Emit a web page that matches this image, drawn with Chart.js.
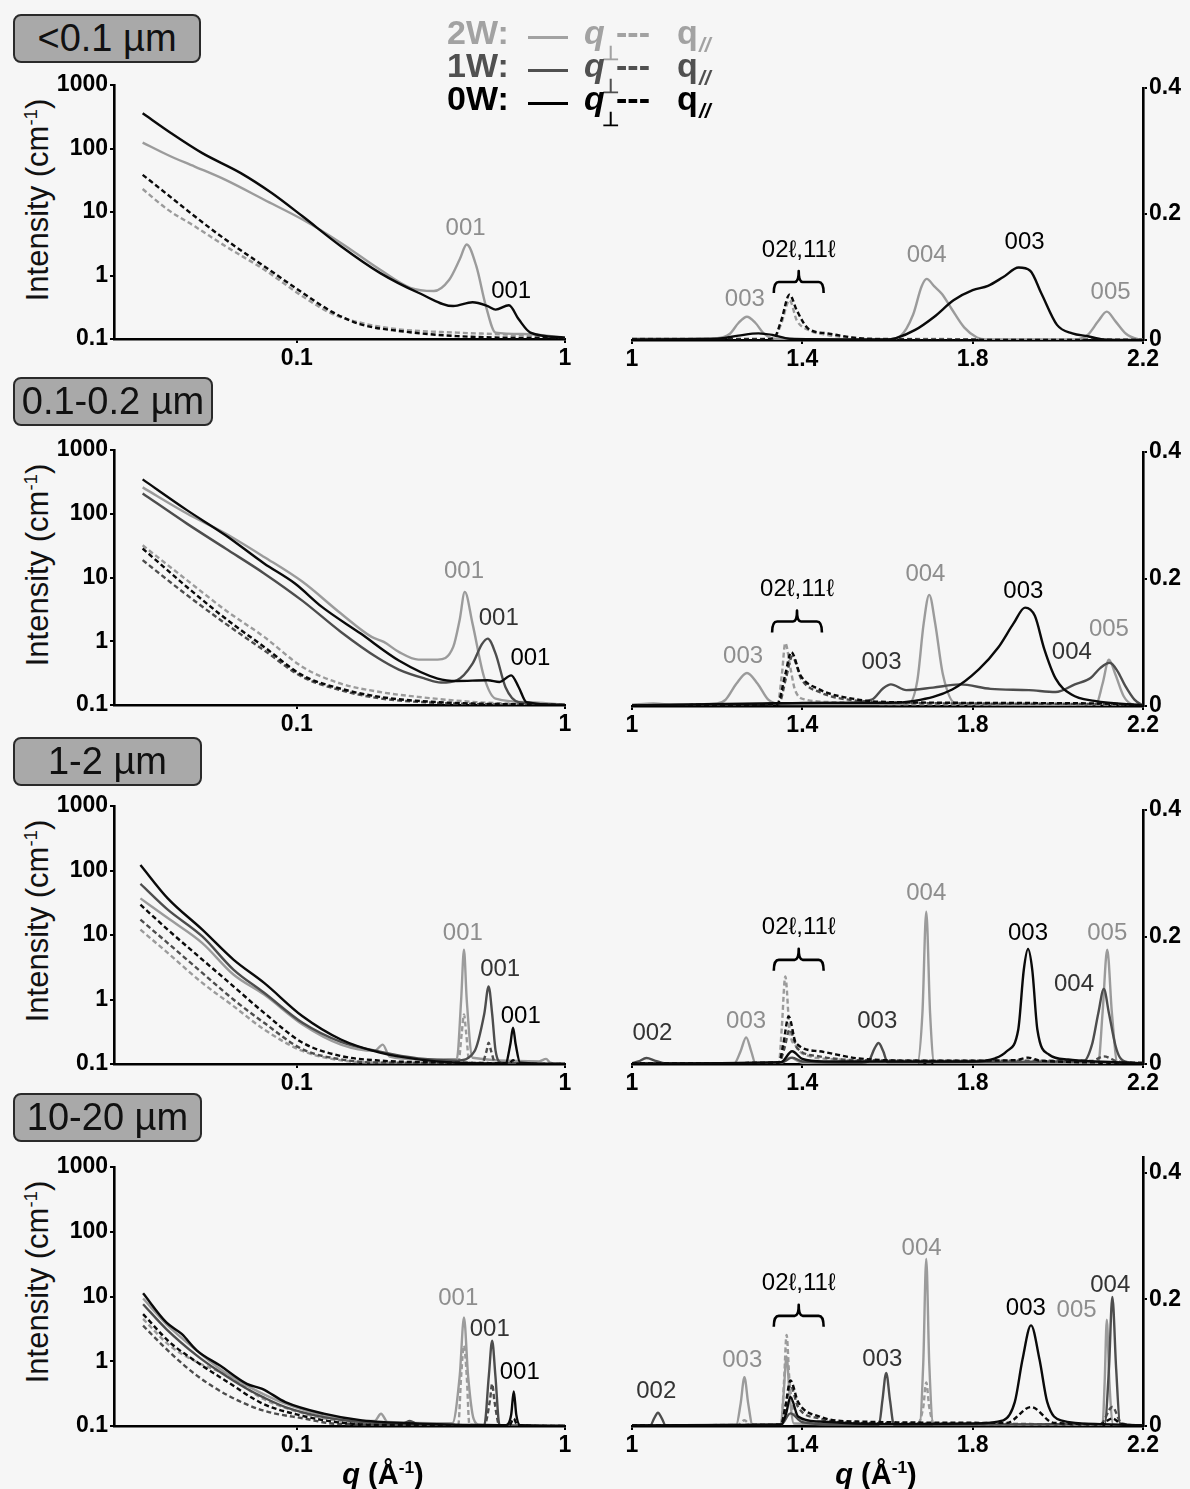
<!DOCTYPE html>
<html>
<head>
<meta charset="utf-8">
<script src="https://cdn.jsdelivr.net/npm/chart.js@4.4.1/dist/chart.umd.min.js"></script>
<style>
  html,body{margin:0;padding:0;background:#f6f6f6;}
  #wrap{position:relative;width:1190px;height:1489px;overflow:hidden;background:#f6f6f6;font-family:"Liberation Sans",Arial,sans-serif;}
  .box{position:absolute;background:#a9a9a9;border:2px solid #2a2a2a;border-radius:8px;box-sizing:border-box;
       font-size:38px;color:#111;text-align:center;line-height:45px;}
  .ytitle{position:absolute;font-size:31px;color:#111;white-space:nowrap;transform:translate(-50%,-50%) rotate(-90deg);}
  .ytitle sup,.xtitle sup{font-size:60%;vertical-align:super;line-height:0;}
  .xtitle{position:absolute;font-size:29px;font-weight:bold;color:#000;white-space:nowrap;transform:translate(-50%,-50%);}
  .lgp{position:absolute;font-weight:bold;white-space:nowrap;line-height:1;}
  canvas{position:absolute;}
</style>
</head>
<body>
<div id="wrap"></div>
<script>
// ---------------- DATA ([q (Å-1), Intensity] pairs) ----------------
// Row 1: <0.1 µm, left (log-log)
const r1L_2W_perp = [[0.0266,124],[0.033,79],[0.0416,52],[0.0542,32],[0.0755,15.6],[0.105,7.6],[0.146,3.26],[0.204,1.24],[0.265,0.64],[0.324,0.57],[0.37,0.86],[0.405,1.8],[0.43,3.07],[0.467,1.4],[0.507,0.33],[0.551,0.126],[0.7,0.12],[1.0,0.105]];
const r1L_2W_par  = [[0.0266,23],[0.033,10.9],[0.0416,5.95],[0.0542,2.89],[0.0755,1.24],[0.105,0.47],[0.137,0.244],[0.173,0.18],[0.24,0.142],[0.395,0.126],[0.6,0.118],[1.0,0.105]];
const r1L_0W_perp = [[0.0266,359],[0.034,174],[0.0444,84.5],[0.0618,41],[0.0806,19.9],[0.105,8.55],[0.146,2.89],[0.204,1.1],[0.284,0.535],[0.383,0.33],[0.452,0.38],[0.515,0.33],[0.551,0.29],[0.618,0.34],[0.672,0.204],[0.743,0.126],[1.0,0.105]];
const r1L_0W_par  = [[0.0266,38.5],[0.033,18.7],[0.0416,8.55],[0.0542,3.68],[0.0755,1.4],[0.105,0.535],[0.137,0.26],[0.173,0.17],[0.24,0.134],[0.395,0.111],[1.0,0.102]];
// Row 1, right (linear)
const r1R_2W_perp = [[1.0,0.002],[1.2,0.003],[1.23,0.01],[1.25,0.027],[1.27,0.037],[1.29,0.027],[1.31,0.01],[1.335,0.002],[1.5,0.001],[1.6,0.001],[1.63,0.006],[1.66,0.04],[1.68,0.085],[1.692,0.097],[1.71,0.085],[1.728,0.073],[1.75,0.05],[1.78,0.02],[1.81,0.004],[1.83,0.001],[2.04,0.001],[2.07,0.008],[2.095,0.03],[2.115,0.045],[2.135,0.03],[2.16,0.01],[2.19,0.001],[2.2,0]];
const r1R_2W_par  = [[1.0,0.002],[1.3,0.002],[1.333,0.003],[1.35,0.025],[1.37,0.063],[1.387,0.031],[1.414,0.016],[1.459,0.008],[1.53,0.003],[1.6,0.002],[2.2,0.001]];
const r1R_0W_perp = [[1.0,0.001],[1.2,0.002],[1.25,0.007],[1.297,0.0105],[1.33,0.008],[1.37,0.002],[1.5,0.001],[1.6,0.001],[1.62,0.003],[1.665,0.016],[1.71,0.037],[1.755,0.063],[1.8,0.079],[1.836,0.086],[1.872,0.1],[1.908,0.115],[1.935,0.11],[1.962,0.073],[1.998,0.024],[2.034,0.0105],[2.07,0.006],[2.106,0.001],[2.2,0]];
const r1R_0W_par  = [[1.0,0.001],[1.3,0.001],[1.333,0.003],[1.35,0.03],[1.37,0.072],[1.387,0.047],[1.414,0.018],[1.459,0.0105],[1.53,0.003],[1.6,0.001],[2.2,0]];

// Row 2: 0.1-0.2 µm, left
const r2L_2W_perp = [[0.0266,259],[0.0389,101],[0.0542,49],[0.0755,21],[0.105,8.55],[0.146,2.72],[0.19,1.17],[0.211,0.977],[0.24,0.68],[0.284,0.515],[0.335,0.515],[0.383,0.815],[0.405,2.2],[0.423,5.96],[0.452,1.89],[0.499,0.275],[0.551,0.126],[0.77,0.11],[1.0,0.1]];
const r2L_2W_par  = [[0.0266,32],[0.0389,9.1],[0.0542,3.07],[0.0755,1.17],[0.105,0.395],[0.146,0.216],[0.204,0.16],[0.284,0.134],[0.467,0.111],[1.0,0.1]];
const r2L_1W_perp = [[0.0266,208],[0.0389,70],[0.0542,28.5],[0.0755,11.6],[0.105,4.3],[0.146,1.4],[0.2,0.55],[0.24,0.36],[0.3,0.26],[0.345,0.225],[0.395,0.244],[0.452,0.445],[0.49,0.9],[0.515,1.1],[0.551,0.64],[0.6,0.19],[0.672,0.111],[1.0,0.1]];
const r2L_1W_par  = [[0.0266,18.7],[0.0389,5.3],[0.0542,1.89],[0.0755,0.72],[0.105,0.275],[0.146,0.17],[0.204,0.127],[0.335,0.108],[1.0,0.1]];
const r2L_0W_perp = [[0.0266,346],[0.0389,114],[0.0542,46],[0.0755,16.6],[0.0984,8.05],[0.124,3.46],[0.173,1.32],[0.24,0.5],[0.335,0.26],[0.395,0.238],[0.515,0.244],[0.57,0.23],[0.63,0.292],[0.672,0.19],[0.718,0.111],[1.0,0.1]];
const r2L_0W_par  = [[0.0266,28.5],[0.0389,7.1],[0.0542,2.27],[0.0755,0.815],[0.105,0.292],[0.146,0.18],[0.204,0.134],[0.335,0.111],[1.0,0.1]];
// Row 2, right
const r2R_2W_perp = [[1.0,0.002],[1.05,0.004],[1.1,0.002],[1.2,0.004],[1.22,0.01],[1.245,0.035],[1.27,0.052],[1.295,0.035],[1.32,0.01],[1.35,0.003],[1.6,0.003],[1.65,0.004],[1.67,0.04],[1.685,0.13],[1.698,0.175],[1.712,0.13],[1.73,0.05],[1.76,0.004],[2.0,0.002],[2.09,0.003],[2.105,0.035],[2.12,0.073],[2.135,0.05],[2.155,0.015],[2.176,0.002],[2.2,0]];
const r2R_2W_par  = [[1.0,0.001],[1.3,0.002],[1.342,0.004],[1.352,0.05],[1.36,0.099],[1.372,0.06],[1.382,0.027],[1.405,0.0105],[1.48,0.006],[1.6,0.003],[2.2,0.002]];
const r2R_1W_perp = [[1.0,0.001],[1.3,0.003],[1.4,0.005],[1.5,0.005],[1.563,0.01],[1.59,0.028],[1.608,0.034],[1.644,0.025],[1.707,0.029],[1.77,0.034],[1.842,0.027],[1.932,0.025],[1.995,0.022],[2.04,0.034],[2.077,0.044],[2.1,0.06],[2.122,0.068],[2.14,0.055],[2.158,0.032],[2.18,0.01],[2.2,0.001]];
const r2R_1W_par  = [[1.0,0.001],[1.3,0.002],[1.345,0.004],[1.362,0.045],[1.376,0.078],[1.398,0.042],[1.44,0.022],[1.53,0.008],[1.62,0.005],[2.1,0.003],[2.2,0.001]];
const r2R_0W_perp = [[1.0,0.001],[1.3,0.004],[1.45,0.005],[1.6,0.005],[1.662,0.008],[1.752,0.026],[1.815,0.058],[1.86,0.092],[1.896,0.13],[1.923,0.155],[1.946,0.142],[1.968,0.09],[1.995,0.043],[2.032,0.018],[2.086,0.008],[2.2,0.001]];
const r2R_0W_par  = [[1.0,0.001],[1.3,0.002],[1.342,0.004],[1.36,0.05],[1.374,0.085],[1.396,0.048],[1.437,0.027],[1.527,0.0105],[1.617,0.006],[2.1,0.004],[2.2,0.001]];

// Row 3: 1-2 µm, left
const r3L_2W_perp = [[0.0261,37],[0.033,18.3],[0.0444,7.5],[0.058,2.44],[0.0755,1.19],[0.105,0.41],[0.146,0.2],[0.195,0.16],[0.209,0.2],[0.222,0.13],[0.284,0.118],[0.395,0.12],[0.41,1.0],[0.42,5.9],[0.43,1.0],[0.452,0.125],[0.8,0.11],[0.85,0.12],[0.88,0.105],[1.0,0.1]];
const r3L_2W_par  = [[0.0261,12.1],[0.033,5.27],[0.0444,1.81],[0.058,0.79],[0.0755,0.343],[0.105,0.159],[0.146,0.114],[0.204,0.105],[0.4,0.105],[0.412,0.3],[0.42,0.586],[0.428,0.3],[0.44,0.105],[1.0,0.1]];
const r3L_1W_perp = [[0.0261,62],[0.033,24.7],[0.0444,9.5],[0.058,2.91],[0.0755,1.27],[0.105,0.435],[0.146,0.22],[0.204,0.155],[0.284,0.122],[0.395,0.113],[0.46,0.158],[0.5,0.6],[0.519,1.6],[0.535,0.6],[0.551,0.16],[0.58,0.105],[1.0,0.1]];
const r3L_1W_par  = [[0.0261,17.3],[0.033,7.5],[0.0444,2.58],[0.058,1.0],[0.0755,0.435],[0.105,0.169],[0.146,0.118],[0.204,0.105],[0.49,0.103],[0.51,0.16],[0.519,0.214],[0.53,0.16],[0.55,0.103],[1.0,0.1]];
const r3L_0W_perp = [[0.0261,122],[0.033,37],[0.0444,12.1],[0.058,4.16],[0.0755,1.81],[0.105,0.55],[0.146,0.24],[0.204,0.15],[0.284,0.118],[0.395,0.105],[0.6,0.102],[0.625,0.2],[0.64,0.365],[0.655,0.2],[0.68,0.105],[1.0,0.1]];
const r3L_0W_par  = [[0.0261,29.5],[0.033,12.1],[0.0444,4.16],[0.058,1.6],[0.0755,0.62],[0.105,0.214],[0.146,0.133],[0.204,0.113],[0.395,0.105],[0.62,0.103],[0.64,0.115],[0.66,0.102],[1.0,0.1]];
// Row 3, right
const r3R_2W_perp = [[1.0,0.001],[1.24,0.001],[1.255,0.02],[1.268,0.042],[1.28,0.02],[1.29,0.001],[1.35,0.002],[1.372,0.01],[1.4,0.002],[1.67,0.001],[1.682,0.08],[1.691,0.24],[1.7,0.08],[1.71,0.001],[2.095,0.002],[2.105,0.08],[2.116,0.18],[2.127,0.08],[2.14,0.002],[2.2,0]];
const r3R_2W_par  = [[1.0,0.001],[1.345,0.002],[1.352,0.06],[1.36,0.138],[1.37,0.054],[1.385,0.028],[1.405,0.015],[1.485,0.007],[1.6,0.003],[2.2,0.001]];
const r3R_1W_perp = [[1.0,0.001],[1.015,0.004],[1.034,0.0094],[1.055,0.005],[1.079,0.001],[1.35,0.002],[1.376,0.01],[1.4,0.004],[1.54,0.002],[1.555,0.004],[1.57,0.025],[1.579,0.033],[1.59,0.02],[1.6,0.003],[2.06,0.004],[2.08,0.03],[2.095,0.08],[2.108,0.118],[2.12,0.08],[2.135,0.03],[2.146,0.01],[2.17,0.002],[2.2,0]];
const r3R_1W_par  = [[1.0,0.001],[1.345,0.002],[1.358,0.025],[1.37,0.054],[1.388,0.025],[1.44,0.012],[1.53,0.006],[2.08,0.005],[2.108,0.012],[2.14,0.004],[2.2,0.001]];
const r3R_0W_perp = [[1.0,0.001],[1.35,0.003],[1.376,0.02],[1.4,0.008],[1.45,0.004],[1.8,0.004],[1.853,0.009],[1.88,0.02],[1.907,0.054],[1.92,0.148],[1.93,0.181],[1.94,0.148],[1.952,0.054],[1.979,0.015],[2.024,0.007],[2.2,0.001]];
const r3R_0W_par  = [[1.0,0.001],[1.345,0.002],[1.355,0.03],[1.368,0.075],[1.385,0.033],[1.44,0.02],[1.53,0.009],[1.7,0.005],[1.9,0.006],[1.93,0.01],[1.96,0.005],[2.2,0.002]];

// Row 4: 10-20 µm, left
const r4L_2W_perp = [[0.0267,9.3],[0.0326,3.75],[0.0424,1.46],[0.0517,0.76],[0.0651,0.42],[0.0747,0.314],[0.0906,0.221],[0.126,0.146],[0.175,0.12],[0.195,0.12],[0.206,0.155],[0.218,0.115],[0.38,0.11],[0.405,0.6],[0.42,4.75],[0.435,0.6],[0.456,0.13],[0.48,0.105],[1.0,0.1]];
const r4L_2W_par  = [[0.0267,4.5],[0.0336,1.74],[0.0424,0.97],[0.0553,0.6],[0.0747,0.264],[0.107,0.155],[0.14,0.122],[0.2,0.105],[0.4,0.105],[0.41,0.6],[0.42,1.74],[0.43,0.6],[0.44,0.105],[1.0,0.1]];
const r4L_1W_perp = [[0.0267,7.6],[0.0326,3.14],[0.0424,1.22],[0.0517,0.68],[0.0651,0.375],[0.0747,0.279],[0.0906,0.196],[0.126,0.137],[0.175,0.115],[0.25,0.11],[0.264,0.12],[0.28,0.108],[0.5,0.103],[0.52,0.6],[0.535,2.08],[0.55,0.6],[0.57,0.103],[1.0,0.1]];
const r4L_1W_par  = [[0.0267,3.54],[0.0336,1.37],[0.0424,0.6],[0.0553,0.297],[0.0747,0.174],[0.107,0.13],[0.14,0.108],[0.5,0.102],[0.525,0.25],[0.535,0.448],[0.545,0.25],[0.57,0.102],[1.0,0.1]];
const r4L_0W_perp = [[0.0267,11.2],[0.0326,3.98],[0.0372,2.64],[0.0424,1.46],[0.0517,0.857],[0.0651,0.448],[0.0743,0.375],[0.0906,0.234],[0.126,0.155],[0.175,0.122],[0.287,0.109],[0.6,0.103],[0.63,0.15],[0.644,0.341],[0.658,0.15],[0.68,0.103],[1.0,0.1]];
const r4L_0W_par  = [[0.0267,5.35],[0.0336,1.96],[0.0424,0.97],[0.0553,0.475],[0.0747,0.221],[0.103,0.146],[0.14,0.115],[0.2,0.104],[0.62,0.103],[0.644,0.13],[0.665,0.102],[1.0,0.1]];
// Row 4, right
const r4R_2W_perp = [[1.0,0.001],[1.245,0.002],[1.255,0.035],[1.264,0.077],[1.273,0.035],[1.283,0.002],[1.35,0.002],[1.356,0.05],[1.363,0.11],[1.37,0.05],[1.38,0.004],[1.675,0.002],[1.684,0.1],[1.691,0.264],[1.698,0.1],[1.708,0.002],[2.105,0.003],[2.11,0.07],[2.115,0.168],[2.121,0.07],[2.13,0.002],[2.2,0]];
const r4R_2W_par  = [[1.0,0.001],[1.25,0.002],[1.264,0.009],[1.278,0.002],[1.35,0.003],[1.357,0.07],[1.363,0.144],[1.37,0.07],[1.385,0.015],[1.45,0.006],[1.67,0.003],[1.684,0.03],[1.691,0.069],[1.698,0.03],[1.71,0.003],[2.2,0.001]];
const r4R_1W_perp = [[1.0,0.001],[1.043,0.001],[1.052,0.012],[1.061,0.021],[1.07,0.012],[1.079,0.001],[1.35,0.002],[1.372,0.02],[1.4,0.006],[1.5,0.002],[1.58,0.002],[1.588,0.04],[1.597,0.084],[1.606,0.04],[1.615,0.002],[2.11,0.003],[2.12,0.09],[2.128,0.204],[2.137,0.09],[2.146,0.004],[2.2,0]];
const r4R_1W_par  = [[1.0,0.001],[1.35,0.002],[1.36,0.03],[1.372,0.064],[1.39,0.03],[1.44,0.012],[1.53,0.005],[2.1,0.003],[2.128,0.03],[2.15,0.004],[2.2,0.001]];
const r4R_0W_perp = [[1.0,0.001],[1.35,0.002],[1.362,0.02],[1.372,0.046],[1.39,0.015],[1.44,0.007],[1.6,0.003],[1.8,0.004],[1.872,0.009],[1.899,0.038],[1.917,0.105],[1.937,0.159],[1.957,0.105],[1.975,0.038],[2.007,0.009],[2.1,0.003],[2.2,0.001]];
const r4R_0W_par  = [[1.0,0.001],[1.35,0.002],[1.36,0.03],[1.372,0.072],[1.39,0.038],[1.44,0.015],[1.53,0.007],[1.88,0.005],[1.937,0.03],[1.99,0.005],[2.1,0.003],[2.128,0.012],[2.15,0.003],[2.2,0.001]];

// Peak labels: [text, q, intensity, series]
const r1L_peaks = [['001',0.426,5.6,'2W'],['001',0.63,0.57,'0W']];
const r1R_peaks = [['003',1.265,0.065,'2W'],['004',1.692,0.134,'2W'],['003',1.922,0.155,'0W'],['005',2.124,0.076,'2W']];
const r2L_peaks = [['001',0.42,12.3,'2W'],['001',0.566,2.27,'1W'],['001',0.743,0.535,'0W']];
const r2R_peaks = [['003',1.261,0.078,'2W'],['003',1.586,0.068,'1W'],['004',1.689,0.208,'2W'],['003',1.919,0.18,'0W'],['004',2.033,0.084,'1W'],['005',2.12,0.12,'2W']];
const r3L_peaks = [['001',0.416,10.7,'2W'],['001',0.573,2.91,'1W'],['001',0.684,0.55,'0W']];
const r3R_peaks = [['002',1.048,0.048,'1W'],['003',1.268,0.067,'2W'],['003',1.576,0.067,'1W'],['004',1.691,0.269,'2W'],['003',1.93,0.205,'0W'],['004',2.038,0.125,'1W'],['005',2.116,0.206,'2W']];
const r4L_peaks = [['001',0.4,9.3,'2W'],['001',0.524,3.14,'1W'],['001',0.678,0.68,'0W']];
const r4R_peaks = [['002',1.057,0.054,'1W'],['003',1.259,0.103,'2W'],['003',1.588,0.105,'1W'],['004',1.68,0.281,'2W'],['003',1.925,0.186,'0W'],['005',2.044,0.183,'2W'],['004',2.123,0.222,'1W']];
// 02ℓ,11ℓ bracket: [q start, q end, intensity of bar]
const r1R_brace = [1.333,1.45,0.092];
const r2R_brace = [1.329,1.446,0.133];
const r3R_brace = [1.333,1.45,0.164];
const r4R_brace = [1.333,1.45,0.174];

const PANEL_TITLES = ['<0.1 µm','0.1-0.2 µm','1-2 µm','10-20 µm'];
const LOG_Y_TICKS = [0.1,1,10,100,1000];
const LOG_X_TICKS = [0.1,1];
const LIN_X_TICKS = [1,1.4,1.8,2.2];
const LIN_Y_TICKS = [0,0.2,0.4];
const SERIES = ['2W','1W','0W'];

// ---------------- STYLE / LAYOUT ----------------
const LINE_COLORS  = {'2W':'#9b9b9b','1W':'#4d4d4d','0W':'#0a0a0a'};
const LABEL_COLORS = {'2W':'#8e8e8e','1W':'#333333','0W':'#000000'};
const LEGEND_COLORS= {'2W':'#a2a2a2','1W':'#505050','0W':'#000000'};
const ROWS = [
  {L:[85,339],  R:[88,340],  rMax:0.4,   box:[13,14,188,49]},
  {L:[450,705], R:[452,706], rMax:0.4,   box:[13,377,200,49]},
  {L:[806,1064],R:[810,1064],rMax:0.4,   box:[13,737,189,49]},
  {L:[1167,1426],R:[1157,1426],rMax:0.425,box:[13,1093,189,49]}
];
const PANEL_DATA = [
  {L:{'2W':[r1L_2W_perp,r1L_2W_par],'0W':[r1L_0W_perp,r1L_0W_par]}, Lp:r1L_peaks,
   R:{'2W':[r1R_2W_perp,r1R_2W_par],'0W':[r1R_0W_perp,r1R_0W_par]}, Rp:r1R_peaks, brace:r1R_brace},
  {L:{'2W':[r2L_2W_perp,r2L_2W_par],'1W':[r2L_1W_perp,r2L_1W_par],'0W':[r2L_0W_perp,r2L_0W_par]}, Lp:r2L_peaks,
   R:{'2W':[r2R_2W_perp,r2R_2W_par],'1W':[r2R_1W_perp,r2R_1W_par],'0W':[r2R_0W_perp,r2R_0W_par]}, Rp:r2R_peaks, brace:r2R_brace},
  {L:{'2W':[r3L_2W_perp,r3L_2W_par],'1W':[r3L_1W_perp,r3L_1W_par],'0W':[r3L_0W_perp,r3L_0W_par]}, Lp:r3L_peaks,
   R:{'2W':[r3R_2W_perp,r3R_2W_par],'1W':[r3R_1W_perp,r3R_1W_par],'0W':[r3R_0W_perp,r3R_0W_par]}, Rp:r3R_peaks, brace:r3R_brace},
  {L:{'2W':[r4L_2W_perp,r4L_2W_par],'1W':[r4L_1W_perp,r4L_1W_par],'0W':[r4L_0W_perp,r4L_0W_par]}, Lp:r4L_peaks,
   R:{'2W':[r4R_2W_perp,r4R_2W_par],'1W':[r4R_1W_perp,r4R_1W_par],'0W':[r4R_0W_perp,r4R_0W_par]}, Rp:r4R_peaks, brace:r4R_brace}
];

const FONT = '"Liberation Sans", Arial, sans-serif';
const wrap = document.getElementById('wrap');

const annotPlugin = {
  id:'annot',
  afterDatasetsDraw(chart, args, o){
    const ctx = chart.ctx, x = chart.scales.x, y = chart.scales.y;
    ctx.save();
    ctx.font = '24px ' + FONT;
    ctx.textAlign = 'center'; ctx.textBaseline = 'middle';
    (o.peaks||[]).forEach(p => {
      ctx.fillStyle = LABEL_COLORS[p[3]];
      ctx.fillText(p[0], x.getPixelForValue(p[1]), y.getPixelForValue(p[2]));
    });
    if (o.brace){
      const b = o.brace;
      const x1 = x.getPixelForValue(b[0]), x2 = x.getPixelForValue(b[1]), xc = (x1+x2)/2, yb = y.getPixelForValue(b[2]);
      ctx.strokeStyle = '#000'; ctx.lineWidth = 2.6; ctx.lineJoin='round';
      ctx.beginPath();
      ctx.moveTo(x1, yb+11); ctx.quadraticCurveTo(x1, yb, x1+5, yb);
      ctx.lineTo(xc-4, yb); ctx.quadraticCurveTo(xc, yb, xc, yb-11);
      ctx.quadraticCurveTo(xc, yb, xc+4, yb);
      ctx.lineTo(x2-5, yb); ctx.quadraticCurveTo(x2, yb, x2, yb+11);
      ctx.stroke();
      ctx.fillStyle = '#000';
      ctx.fillText('02ℓ,11ℓ', xc, yb-32);
    }
    ctx.restore();
  }
};

function axisCommon(){
  return {
    ticks:{font:{family:FONT, weight:'bold', size:23}, color:'#000', padding:2, autoSkip:false, maxRotation:0, minRotation:0,
           callback:(v)=>String(v)},
    grid:{display:true, drawOnChartArea:false, drawTicks:true, tickLength:4, color:'#000', lineWidth:2},
    border:{display:true, color:'#000', width:2.6}
  };
}

function makePanel(r, side){
  const g = ROWS[r];
  const [T,B] = g[side];
  const PT = 40, PB = 50;
  const left = side==='L' ? 0 : 600, width = side==='L' ? 600 : 590;
  const height = (B-T) + PT + PB;
  const cv = document.createElement('canvas');
  cv.width = width; cv.height = height;
  cv.style.left = left+'px'; cv.style.top = (T-PT)+'px';
  cv.style.width = width+'px'; cv.style.height = height+'px';
  wrap.appendChild(cv);

  const pd = PANEL_DATA[r];
  const src = pd[side];
  const datasets = [];
  SERIES.forEach(k => {
    if (!src[k]) return;
    [0,1].forEach(j => {
      datasets.push({
        data: src[k][j].map(p => ({x:p[0], y:p[1]})),
        borderColor: LINE_COLORS[k], borderWidth: 2.4,
        borderDash: j===1 ? [5,3] : [],
        pointRadius:0, fill:false, cubicInterpolationMode:'monotone'
      });
    });
  });
  datasets.forEach((d,i)=>{ d.order = datasets.length - i; });

  const xs = axisCommon(), ys = axisCommon();
  if (side==='L'){
    Object.assign(xs, {type:'logarithmic', min:0.0208, max:1,
      afterBuildTicks:s=>{s.ticks = LOG_X_TICKS.map(v=>({value:v}));}, afterFit:s=>{s.height = PB;}});
    Object.assign(ys, {type:'logarithmic', min:0.1, max:1000,
      afterBuildTicks:s=>{s.ticks = LOG_Y_TICKS.map(v=>({value:v}));}, afterFit:s=>{s.width = 114;}});
  } else {
    Object.assign(xs, {type:'linear', min:1, max:2.2,
      afterBuildTicks:s=>{s.ticks = LIN_X_TICKS.map(v=>({value:v}));}, afterFit:s=>{s.height = PB;}});
    Object.assign(ys, {type:'linear', position:'right', min:0, max:g.rMax,
      afterBuildTicks:s=>{s.ticks = LIN_Y_TICKS.map(v=>({value:v}));}, afterFit:s=>{s.width = 47;}});
  }

  new Chart(cv, {
    type:'line',
    data:{datasets},
    options:{
      responsive:false, maintainAspectRatio:false, animation:false,
      layout:{padding: side==='L' ? {top:PT,bottom:0,left:0,right:35} : {top:PT,bottom:0,left:32,right:0}},
      scales:{x:xs, y:ys},
      plugins:{legend:{display:false}, tooltip:{enabled:false},
               annot:{peaks: side==='L' ? pd.Lp : pd.Rp, brace: side==='R' ? pd.brace : null}}
    },
    plugins:[annotPlugin]
  });
}

// Overlays: panel title boxes, axis titles, legend
ROWS.forEach((g,r)=>{
  const b = document.createElement('div');
  b.className = 'box';
  b.style.left = g.box[0]+'px'; b.style.top = g.box[1]+'px';
  b.style.width = g.box[2]+'px'; b.style.height = g.box[3]+'px';
  b.textContent = PANEL_TITLES[r];
  wrap.appendChild(b);
  const yt = document.createElement('div');
  yt.className = 'ytitle';
  yt.style.left = '38px'; yt.style.top = (g.L[0]+115)+'px';
  yt.innerHTML = 'Intensity (cm<sup>-1</sup>)';
  wrap.appendChild(yt);
  makePanel(r,'L');
  makePanel(r,'R');
});
[383, 876].forEach(cx=>{
  const t = document.createElement('div');
  t.className = 'xtitle';
  t.style.left = cx+'px'; t.style.top = '1474px';
  t.innerHTML = '<i>q</i> (Å<sup>-1</sup>)';
  wrap.appendChild(t);
});
// legend pieces, each placed by its baseline
function lgText(txt, x, base, size, color, italic){
  const s = document.createElement('div');
  s.className = 'lgp';
  s.textContent = txt;
  s.style.left = x+'px';
  s.style.top = (base - Math.round(size*0.905))+'px';
  s.style.fontSize = size+'px';
  s.style.color = color;
  if (italic) s.style.fontStyle = 'italic';
  wrap.appendChild(s);
}
SERIES.forEach((k,i)=>{
  const base = 46 + 33*i, c = LEGEND_COLORS[k];
  lgText(k+':', 447, base, 34, c, false);
  const ln = document.createElement('div');
  ln.style.cssText = 'position:absolute;left:528px;width:40px;height:3px;top:'+(base-10)+'px;background:'+c;
  wrap.appendChild(ln);
  lgText('q', 584, base, 34, c, true);
  lgText('⊥', 602, base+15, 20, c, false);
  lgText('---', 616, base, 34, c, false);
  lgText('q', 677, base, 34, c, false);
  lgText('//', 699, base+7, 21, c, true);
});
</script>
</body>
</html>
